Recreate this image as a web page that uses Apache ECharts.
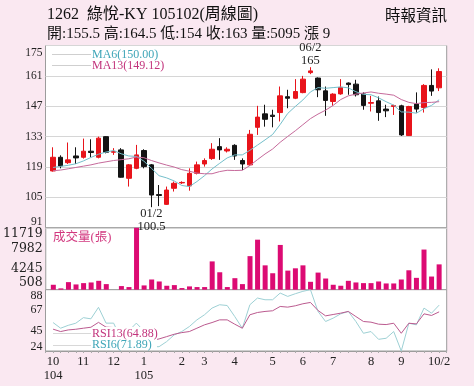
<!DOCTYPE html>
<html>
<head>
<meta charset="utf-8">
<script src="https://cdn.jsdelivr.net/npm/echarts@6/dist/echarts.min.js"></script>
<style>
  html, body { margin: 0; padding: 0; background: #fae8f1; }
  #chart { width: 474px; height: 386px; }
</style>
</head>
<body>
<div id="chart"></div>
<script>
// 1262 綠悅-KY weekly candles, 104/10 week 1 to 105/10 week 2
const weeks = [
  '104/10/1','104/10/2','104/10/3','104/10/4',
  '104/11/1','104/11/2','104/11/3','104/11/4',
  '104/12/1','104/12/2','104/12/3','104/12/4',
  '105/01/1','105/01/2','105/01/3','105/01/4','105/01/5',
  '105/02/1','105/02/2','105/02/3',
  '105/03/1','105/03/2','105/03/3','105/03/4',
  '105/04/1','105/04/2','105/04/3','105/04/4','105/04/5',
  '105/05/1','105/05/2','105/05/3','105/05/4',
  '105/06/1','105/06/2','105/06/3','105/06/4',
  '105/07/1','105/07/2','105/07/3','105/07/4','105/07/5',
  '105/08/1','105/08/2','105/08/3','105/08/4',
  '105/09/1','105/09/2','105/09/3','105/09/4',
  '105/10/1','105/10/2'
];

const open = [
  117.2, 123.5, 121.0, 124.1, 123.5, 126.3, 123.5, 133.0, 125.8, 126.9,
  113.8, 118.4, 126.6, 120.0, 106.3, 101.8, 109.2, 111.7, 110.3, 116.1,
  120.4, 122.9, 128.4, 126.4, 129.0, 122.0, 120.0, 137.3, 143.5, 142.9,
  144.1, 151.4, 150.7, 153.3, 162.5, 160.0, 154.1, 149.2, 152.7, 157.7,
  157.2, 152.7, 148.4, 149.5, 145.7, 146.9, 147.2, 133.5, 148.0, 146.4,
  156.6, 155.5
];
const close = [
  123.5, 119.5, 122.3, 123.2, 126.3, 125.7, 132.3, 125.8, 126.2, 114.3,
  120.0, 124.6, 119.2, 106.1, 105.9, 108.4, 111.5, 111.9, 116.1, 120.0,
  122.0, 127.2, 126.9, 127.2, 124.1, 120.4, 134.1, 142.0, 141.0, 142.3,
  151.8, 150.7, 153.8, 159.5, 163.3, 154.6, 149.7, 152.6, 155.7, 157.0,
  152.3, 147.4, 148.7, 144.1, 144.9, 147.3, 133.8, 146.9, 145.7, 156.6,
  154.0, 163.0
];
const low = [
  116.9, 118.4, 120.4, 120.4, 122.9, 123.5, 123.0, 125.3, 124.6, 114.1,
  110.0, 118.0, 118.4, 100.5, 101.0, 101.5, 107.7, 111.2, 108.1, 115.6,
  119.2, 122.3, 122.3, 125.7, 122.3, 117.6, 119.5, 133.8, 137.6, 137.3,
  140.0, 146.1, 150.3, 153.0, 161.8, 151.2, 142.6, 147.2, 152.3, 152.3,
  151.5, 145.4, 144.6, 140.3, 142.0, 143.0, 133.3, 133.3, 144.1, 144.1,
  151.8, 154.0
];
const high = [
  128.1, 124.4, 130.3, 128.1, 132.1, 131.8, 133.0, 133.2, 127.7, 127.7,
  120.4, 129.2, 127.2, 120.4, 110.7, 110.0, 112.3, 112.4, 118.4, 121.5,
  123.0, 130.0, 132.3, 128.1, 129.5, 123.0, 136.1, 147.2, 147.7, 145.4,
  156.1, 154.6, 159.5, 161.0, 165.0, 160.3, 156.1, 153.0, 159.5, 158.0,
  159.2, 153.4, 151.8, 151.5, 147.7, 147.7, 147.7, 147.2, 153.4, 157.2,
  164.0, 164.5
];

// moving averages of the close
const ma6 = [
  118.8, 119.3, 119.8, 120.5, 121.8, 123.4, 124.9, 125.9, 126.6, 125.1,
  124.1, 123.9, 121.7, 118.4, 115.0, 114.0, 112.6, 110.5, 110.0, 112.3,
  115.0, 118.1, 120.7, 123.2, 124.6, 124.6, 126.7, 129.1, 131.5, 134.0,
  138.6, 143.7, 146.9, 149.9, 153.6, 155.6, 155.3, 155.6, 155.9, 155.5,
  153.7, 152.5, 152.3, 150.9, 149.1, 147.5, 144.4, 144.3, 143.8, 145.9,
  147.4, 150.00
];
const ma13 = [
  117.3, 117.6, 118.2, 118.8, 119.4, 120.0, 120.8, 121.4, 122.0, 122.4,
  122.8, 123.6, 123.3, 122.0, 120.9, 119.9, 119.0, 117.8, 117.1, 116.2,
  115.9, 115.9, 116.9, 117.5, 117.4, 117.5, 119.7, 122.4, 125.0, 127.3,
  130.4, 133.1, 135.7, 138.5, 141.3, 143.4, 145.2, 147.4, 150.1, 151.8,
  152.6, 153.1, 153.6, 153.0, 152.6, 152.1, 150.1, 148.8, 148.2, 148.7,
  148.8, 149.12
];

// weekly volume (張)
const volume = [
  1402, 746, 1879, 1462, 1700, 1819, 2117, 1521, 508, 1164,
  985, 11719, 1283, 2356, 1998, 1223, 1342, 806, 1104, 985,
  985, 5634, 3667, 985, 2594, 1521, 6587, 9567, 4918, 3488,
  8614, 3965, 4382, 4918, 1938, 3607, 2534, 1402, 1223, 2117,
  1819, 1700, 1700, 1998, 1640, 1640, 2356, 4024, 2654, 7779,
  2892, 5095
];

const rsi6 = [
  53.7, 47.8, 50.8, 53.0, 58.8, 57.6, 69.6, 53.1, 53.1, 36.0,
  45.0, 53.1, 45.0, 28.5, 28.5, 33.8, 40.8, 44.3, 49.5, 56.5,
  61.8, 68.8, 72.3, 71.5, 60.0, 47.8, 72.3, 79.3, 77.5, 77.5,
  84.5, 81.0, 83.8, 86.3, 88.0, 65.3, 54.8, 58.3, 62.8, 65.3,
  54.8, 42.5, 44.3, 36.2, 37.3, 44.3, 24.0, 53.0, 51.3, 68.8,
  63.5, 71.89
];
const rsi13 = [
  46.8, 44.3, 46.0, 46.7, 47.8, 48.8, 53.9, 48.9, 48.5, 40.0,
  43.0, 47.0, 43.0, 35.0, 36.6, 39.0, 41.5, 43.2, 44.3, 47.8,
  51.3, 53.7, 56.5, 56.5, 52.0, 47.8, 61.8, 64.2, 65.3, 66.0,
  70.5, 69.8, 71.2, 73.3, 74.7, 66.3, 60.7, 62.1, 63.5, 65.3,
  60.0, 54.8, 54.1, 52.0, 51.6, 53.0, 42.5, 53.0, 52.3, 62.8,
  61.1, 64.88
];

// axis tick labels
const priceTicks = [91, 105, 119, 133, 147, 161, 175];
const volumeTicks = [508, 4245, 7982, 11719];
const rsiTicks = [24, 45, 67, 88];
const monthLabels = {
  '104/10/1': '10\n104', '104/11/1': '11', '104/12/1': '12',
  '105/01/1': '1\n105', '105/02/1': '2', '105/03/1': '3', '105/04/1': '4',
  '105/05/1': '5', '105/06/1': '6', '105/07/1': '7', '105/08/1': '8',
  '105/09/1': '9', '105/10/2': '10/2'
};

// ---------------------------------------------------------------
const SERIF = "'Liberation Serif', 'Times New Roman', 'Noto Sans CJK TC', serif";
const CJK = "'Liberation Serif', 'Noto Sans CJK TC', serif";

const L = 45.5, R = 27.3;
const GRID_PRICE = { top: 45.5, height: 182.3 };
const GRID_VOL = { top: 227.8, height: 61.9 };
const GRID_RSI = { top: 289.7, height: 61.3 };

// an empty slot at each end keeps the first and last candle off the frame
const cats = ['', ...weeks, ' '];
const pad = arr => ['-', ...arr, '-'];
const candleData = pad(weeks.map((w, i) => [open[i], close[i], low[i], high[i]]));

const n = weeks.length;
const last = n - 1;
const hiIdx = high.indexOf(Math.max(...high));
const loIdx = low.indexOf(Math.min(...low));
const shortWeek = w => w.slice(4);

const fmt1 = v => (Math.round(v * 10) / 10).toString();
const change = Math.round((close[last] - close[last - 1]) * 10) / 10;

function edgeLabels(ticks, fontSize, family, padTop, padBottom) {
  const min = ticks[0], max = ticks[ticks.length - 1];
  const base = { fontFamily: family, fontSize: fontSize, color: '#222' };
  return {
    customValues: ticks,
    fontFamily: family, fontSize: fontSize, color: '#222', margin: 3,
    formatter: v => v === max ? '{hi|' + v + '}' : v === min ? '{lo|' + v + '}' : String(v),
    rich: {
      hi: Object.assign({ padding: [padTop, 0, 0, 0] }, base),
      lo: Object.assign({ padding: [0, 0, padBottom, 0] }, base)
    }
  };
}

const hiddenX = gi => ({
  type: 'category', gridIndex: gi, data: cats, boundaryGap: false,
  axisLine: { show: false }, axisTick: { show: false }, axisLabel: { show: false },
  splitLine: { show: false }
});

const chart = echarts.init(document.getElementById('chart'), null, { renderer: 'canvas' });

chart.setOption({
  animation: false,
  backgroundColor: '#fae8f1',
  grid: [
    Object.assign({ left: L, right: R, show: true, backgroundColor: '#fff', borderColor: '#9c9c9c', borderWidth: 1 }, GRID_PRICE),
    Object.assign({ left: L, right: R, show: true, backgroundColor: '#fff', borderColor: '#9c9c9c', borderWidth: 1 }, GRID_VOL),
    Object.assign({ left: L, right: R, show: true, backgroundColor: '#fff', borderColor: '#9c9c9c', borderWidth: 1 }, GRID_RSI)
  ],
  xAxis: [
    hiddenX(0),
    hiddenX(1),
    {
      type: 'category', gridIndex: 2, data: cats, boundaryGap: false,
      axisLine: { show: true, lineStyle: { color: '#9c9c9c' } },
      axisTick: { show: true, interval: 0, length: 2, lineStyle: { color: '#aaa' } },
      axisLabel: {
        interval: (i, v) => Object.prototype.hasOwnProperty.call(monthLabels, v),
        formatter: v => monthLabels[v] || '',
        fontFamily: SERIF, fontSize: 12.5, lineHeight: 14, color: '#222', margin: 4
      },
      splitLine: { show: false }
    }
  ],
  yAxis: [
    {
      type: 'value', gridIndex: 0,
      min: priceTicks[0], max: priceTicks[priceTicks.length - 1], interval: 7,
      axisLine: { show: false }, axisTick: { show: false },
      axisLabel: edgeLabels(priceTicks, 11.5, SERIF, 15, 12),
      splitLine: { show: true, lineStyle: { color: ['#d6d6d6', 'rgba(0,0,0,0)'], width: 1 } }
    },
    {
      type: 'value', gridIndex: 1,
      min: volumeTicks[0], max: volumeTicks[volumeTicks.length - 1],
      axisLine: { show: false }, axisTick: { show: false },
      axisLabel: edgeLabels(volumeTicks, 12.5, "'DejaVu Serif', serif", 12, 13),
      splitLine: { show: false }
    },
    {
      type: 'value', gridIndex: 2,
      min: rsiTicks[0], max: rsiTicks[rsiTicks.length - 1],
      axisLine: { show: false }, axisTick: { show: false },
      axisLabel: edgeLabels(rsiTicks, 12, SERIF, 12, 8),
      splitLine: { show: false }
    }
  ],
  series: [
    {
      name: 'K', type: 'candlestick', xAxisIndex: 0, yAxisIndex: 0,
      data: candleData, barWidth: 5,
      itemStyle: {
        color: '#e8141b', color0: '#141414',
        borderColor: '#e8141b', borderColor0: '#141414', borderWidth: 1
      },
      markPoint: {
        symbol: 'circle', symbolSize: 1,
        itemStyle: { color: 'rgba(0,0,0,0)' },
        label: { fontFamily: SERIF, fontSize: 12.5, lineHeight: 12.5, color: '#222' },
        data: [
          {
            coord: [weeks[hiIdx], high[hiIdx]],
            label: { position: 'top', distance: 0, formatter: shortWeek(weeks[hiIdx]) + '\n' + high[hiIdx] }
          },
          {
            coord: [weeks[loIdx], low[loIdx]],
            label: { position: 'bottom', distance: 0, formatter: shortWeek(weeks[loIdx]) + '\n' + low[loIdx] }
          }
        ]
      },
      z: 3
    },
    {
      name: 'MA6', type: 'line', xAxisIndex: 0, yAxisIndex: 0, data: pad(ma6),
      symbol: 'none', lineStyle: { color: '#74bfcb', width: 1 }, z: 4
    },
    {
      name: 'MA13', type: 'line', xAxisIndex: 0, yAxisIndex: 0, data: pad(ma13),
      symbol: 'none', lineStyle: { color: '#c66a9b', width: 1 }, z: 4
    },
    {
      name: '成交量', type: 'bar', xAxisIndex: 1, yAxisIndex: 1, data: pad(volume),
      barWidth: 5, itemStyle: { color: '#dc0b73' }
    },
    {
      name: 'RSI6', type: 'line', xAxisIndex: 2, yAxisIndex: 2, data: pad(rsi6),
      symbol: 'none', lineStyle: { color: '#9dd0d4', width: 1 }
    },
    {
      name: 'RSI13', type: 'line', xAxisIndex: 2, yAxisIndex: 2, data: pad(rsi13),
      symbol: 'none', lineStyle: { color: '#bb5a8f', width: 1 }
    }
  ],
  graphic: [
    {
      type: 'text', left: 47, top: 7,
      style: { text: '1262  綠悅-KY 105102(周線圖)', font: '16px ' + CJK, fill: '#111' }
    },
    {
      type: 'text', left: 47, top: 27,
      style: {
        text: '開:' + fmt1(open[last]) + ' 高:' + fmt1(high[last]) + ' 低:' + fmt1(low[last]) +
              ' 收:' + fmt1(close[last]) + ' 量:' + volume[last] + ' 漲 ' + change,
        font: '15px ' + CJK, fill: '#111'
      }
    },
    {
      type: 'text', right: 27, top: 9,
      style: { text: '時報資訊', font: '15.5px ' + CJK, fill: '#111' }
    },
    // price legend
    { type: 'line', shape: { x1: 52, y1: 54.5, x2: 91, y2: 54.5 }, style: { stroke: '#cfcfcf', lineWidth: 1 }, z: 50 },
    { type: 'line', shape: { x1: 52, y1: 65.5, x2: 91, y2: 65.5 }, style: { stroke: '#cfcfcf', lineWidth: 1 }, z: 50 },
    {
      type: 'text', x: 92, y: 54.5, z: 50,
      style: { text: 'MA6(' + ma6[last].toFixed(2) + ')', font: '12px ' + SERIF, fill: '#3fa6b8', verticalAlign: 'middle' }
    },
    {
      type: 'text', x: 92, y: 66, z: 50,
      style: { text: 'MA13(' + ma13[last].toFixed(2) + ')', font: '12px ' + SERIF, fill: '#c2347c', verticalAlign: 'middle' }
    },
    // volume caption
    {
      type: 'text', x: 53, y: 237.5, z: 50,
      style: { text: '成交量(張)', font: '12.5px ' + CJK, fill: '#d2387f', verticalAlign: 'middle' }
    },
    // RSI legend
    { type: 'rect', shape: { x: 92, y: 327, width: 65, height: 23 }, style: { fill: '#fff' }, z: 49 },
    { type: 'line', shape: { x1: 53, y1: 333.5, x2: 91, y2: 333.5 }, style: { stroke: '#d8d8d8', lineWidth: 1 }, z: 50 },
    { type: 'line', shape: { x1: 53, y1: 345.5, x2: 91, y2: 345.5 }, style: { stroke: '#d8d8d8', lineWidth: 1 }, z: 50 },
    {
      type: 'text', x: 92, y: 333.5, z: 50,
      style: { text: 'RSI13(' + rsi13[last].toFixed(2) + ')', font: '12px ' + SERIF, fill: '#c2347c', verticalAlign: 'middle' }
    },
    {
      type: 'text', x: 92, y: 344.5, z: 50,
      style: { text: 'RSI6(' + rsi6[last].toFixed(2) + ')', font: '12px ' + SERIF, fill: '#3fa6b8', verticalAlign: 'middle' }
    }
  ]
});
</script>
</body>
</html>
